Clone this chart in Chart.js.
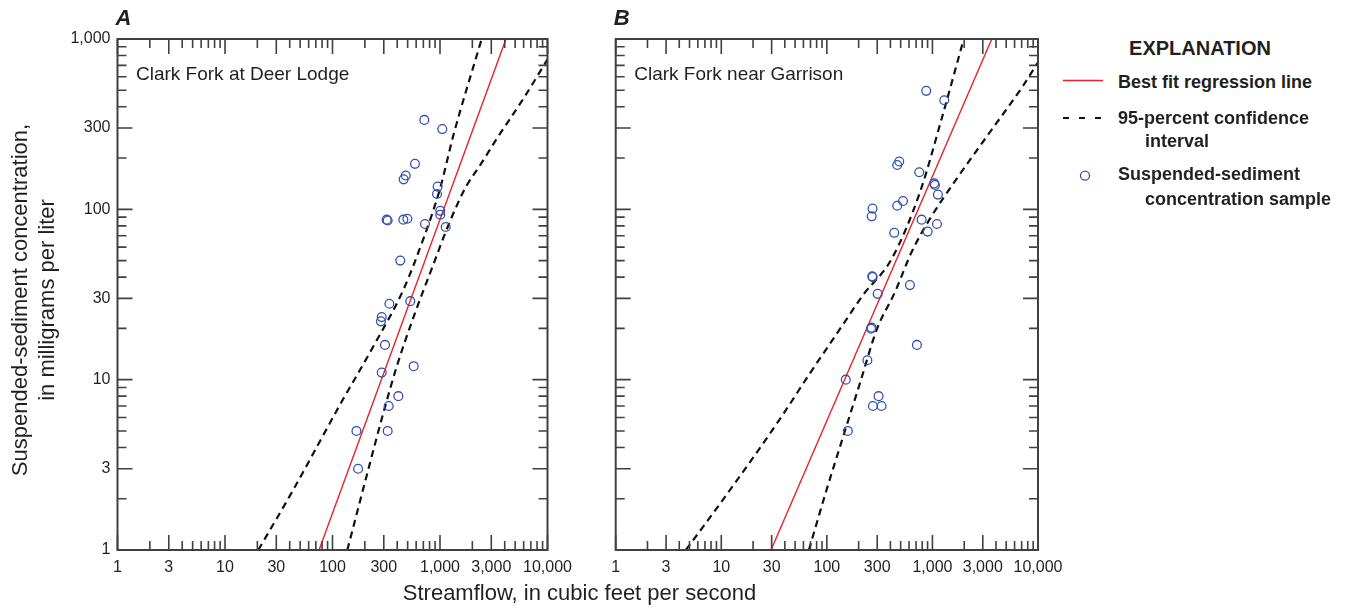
<!DOCTYPE html>
<html>
<head>
<meta charset="utf-8">
<title>Streamflow vs suspended-sediment concentration</title>
<script src="https://cdn.jsdelivr.net/npm/chart.js@4.4.1/dist/chart.umd.min.js"></script>
<style>
  body { margin: 0; background: #fff; width: 1347px; height: 609px; position: relative; overflow: hidden;
         font-family: 'Liberation Sans', Arial, sans-serif; color: #231f20; }
  canvas { position: absolute; top: 0; }
  #chartA { left: 0; }
  #chartB { left: 560px; }
  .txt { position: absolute; white-space: nowrap; }
  .ytitle { position: absolute; width: 440px; height: 22px; line-height: 22px; font-size: 22px;
            text-align: center; transform: rotate(-90deg); }
  .lg { position: absolute; font-weight: bold; font-size: 18px; line-height: 18px; white-space: nowrap; }
</style>
</head>
<body>
<canvas id="chartA" width="580" height="609"></canvas>
<canvas id="chartB" width="540" height="609"></canvas>

<div class="ytitle" style="left:-200px; top:289px;">Suspended-sediment concentration,</div>
<div class="ytitle" style="left:-173px; top:289px;">in milligrams per liter</div>
<div class="txt" style="left:379.5px; top:582px; width:400px; text-align:center; font-size:22px; line-height:22px;">Streamflow, in cubic feet per second</div>

<!-- explanation -->
<div class="lg" style="left:1100px; top:37.5px; width:200px; text-align:center; font-size:20px; line-height:20px;">EXPLANATION</div>
<svg style="position:absolute; left:1055px; top:70px;" width="60" height="120">
  <line x1="8" y1="10.5" x2="48" y2="10.5" stroke="#e9212a" stroke-width="1.5"/>
  <line x1="8" y1="48" x2="48" y2="48" stroke="#111" stroke-width="2" stroke-dasharray="6,10"/>
  <circle cx="30" cy="105.7" r="4.5" fill="none" stroke="#3451b2" stroke-width="1.3"/>
</svg>
<div class="lg" style="left:1118px; top:73.2px;">Best fit regression line</div>
<div class="lg" style="left:1118px; top:108.7px;">95-percent confidence</div>
<div class="lg" style="left:1145px; top:132.2px;">interval</div>
<div class="lg" style="left:1118px; top:165.4px;">Suspended-sediment</div>
<div class="lg" style="left:1145px; top:190px;">concentration sample</div>

<script>
// axis labels
const xLabelValues = [1, 3, 10, 30, 100, 300, 1000, 3000, 10000];
const xTickLabels = ['1', '3', '10', '30', '100', '300', '1,000', '3,000', '10,000'];
const yLabelValues = [1, 3, 10, 30, 100, 300, 1000];
const yTickLabels = ['1', '3', '10', '30', '100', '300', '1,000'];
const minorSteps = [2, 3, 4, 5, 6, 7, 8, 9];

// A - Clark Fork at Deer Lodge (streamflow ft3/s, concentration mg/L)
const flowA = [714, 1050, 585, 480, 459, 952, 938, 1006, 1006, 319, 326, 456, 497, 725, 1130,
               427, 338, 529, 287, 282, 308, 287, 569, 410, 333, 167, 326, 173];
const concA = [335, 296, 185, 158, 150, 136, 123, 98, 93, 87, 86, 87, 88, 82, 78.7,
               50, 27.9, 28.9, 23.3, 22, 16, 11, 12, 8, 7, 5, 5, 3];
const fitFlowA = [75, 4110];
const fitConcA = [1, 1000];
const upperFlowA = [20.4, 43.2, 117.5, 240, 456, 700, 1000, 1330, 2440];
const upperConcA = [1, 2.26, 7.13, 15.7, 33.7, 67.1, 132, 271, 1000];
const lowerFlowA = [137.4, 215, 297, 395, 585, 838, 1194, 1479, 1770, 2355, 3365, 5957, 10000];
const lowerConcA = [1, 2.96, 6.37, 11.9, 24.6, 44.8, 80.4, 110, 138, 181, 259, 446, 759];

// B - Clark Fork near Garrison
const flowB = [874, 1294, 485, 464, 750, 1040, 1056, 1127, 526, 464, 271, 266, 790, 1104, 901,
               435, 269, 272, 612, 303, 262, 265, 713, 242, 151, 309, 273, 330, 158];
const concB = [496, 437, 191, 182, 165, 142, 139, 122, 112, 105, 101, 91, 87, 82, 74,
               72.8, 40.5, 40, 35.9, 31.9, 19.9, 20.2, 16, 13, 10, 8, 7, 7, 5];
const fitFlowB = [29.6, 3650];
const fitConcB = [1, 1000];
const upperFlowB = [4.62, 8.4, 19.4, 37.3, 69.2, 138, 221, 411, 762, 1222, 1980];
const upperConcB = [1, 1.65, 3.39, 6.08, 10.9, 20.5, 31.5, 51.2, 126, 340, 1000];
const lowerFlowB = [67.6, 99.5, 143, 206, 296, 442, 635, 946, 1694, 3508, 7244, 10000];
const lowerConcB = [1, 2.26, 4.65, 9.55, 19.6, 32.7, 56.1, 87.9, 151, 284, 533, 730];

const FONT = "'Liberation Sans', Arial, sans-serif";
const TEXT = '#231f20';
const FRAME = '#404040';
const BLUE = '#3451b2';
const RED = '#e9212a';

function logTicks(max) {
    const out = [];
    for (let d = 1; d <= max; d *= 10) {
        out.push(d);
        if (d < max) minorSteps.forEach(m => out.push(m * d));
    }
    return out;
}
const xTicks = logTicks(10000);
const yTicks = logTicks(1000);

function pairs(xs, ys) {
    return xs.map((x, i) => ({ x: x, y: ys[i] }));
}

function labelFor(v, vals, labs) {
    const i = vals.indexOf(v);
    return i < 0 ? '' : labs[i];
}

// frame plus inward tick marks on all four sides
const frameTicks = {
    id: 'frameTicks',
    afterDatasetsDraw(chart) {
        const { ctx, chartArea: a, scales: { x, y } } = chart;
        ctx.save();
        ctx.strokeStyle = FRAME;
        ctx.lineWidth = 1.6;
        ctx.beginPath();
        xTicks.forEach(v => {
            const px = x.getPixelForValue(v);
            const len = xLabelValues.includes(v) ? 15 : 9;
            ctx.moveTo(px, a.bottom); ctx.lineTo(px, a.bottom - len);
            ctx.moveTo(px, a.top); ctx.lineTo(px, a.top + len);
        });
        yTicks.forEach(v => {
            const py = y.getPixelForValue(v);
            const len = yLabelValues.includes(v) ? 15 : 9;
            ctx.moveTo(a.left, py); ctx.lineTo(a.left + len, py);
            ctx.moveTo(a.right, py); ctx.lineTo(a.right - len, py);
        });
        ctx.stroke();
        ctx.lineWidth = 2;
        ctx.strokeRect(a.left, a.top, a.right - a.left, a.bottom - a.top);
        ctx.restore();
    }
};

// panel letter above the frame and station name inside it
const panelDeco = {
    id: 'panelDeco',
    afterDraw(chart, args, opts) {
        const { ctx, chartArea: a } = chart;
        ctx.save();
        ctx.fillStyle = TEXT;
        ctx.textBaseline = 'alphabetic';
        ctx.font = 'italic bold 22px ' + FONT;
        ctx.fillText(opts.letter, a.left - 2, 25);
        ctx.font = '19px ' + FONT;
        ctx.fillText(opts.name, a.left + 18.5, 80);
        ctx.restore();
    }
};

function makePanel(id, p) {
    const band = (xs, ys, label) => ({
        label: label,
        data: pairs(xs, ys),
        showLine: true,
        cubicInterpolationMode: 'monotone',
        borderColor: '#111',
        borderWidth: 2.2,
        borderDash: [7, 5],
        pointRadius: 0
    });
    return new Chart(document.getElementById(id), {
        type: 'scatter',
        data: {
            datasets: [{
                label: 'Suspended-sediment concentration sample',
                data: pairs(p.flow, p.conc),
                pointRadius: 4.4,
                pointHoverRadius: 4.4,
                borderColor: BLUE,
                backgroundColor: 'rgba(0,0,0,0)',
                borderWidth: 1.3
            }, {
                label: 'Best fit regression line',
                data: pairs(p.fitFlow, p.fitConc),
                showLine: true,
                borderColor: RED,
                borderWidth: 1.4,
                pointRadius: 0
            },
            band(p.upperFlow, p.upperConc, '95-percent confidence interval'),
            band(p.lowerFlow, p.lowerConc, '95-percent confidence interval (lower)')]
        },
        options: {
            responsive: false,
            animation: false,
            events: [],
            layout: { padding: p.padding, autoPadding: false },
            plugins: {
                legend: { display: false },
                tooltip: { enabled: false },
                panelDeco: { letter: p.letter, name: p.name }
            },
            scales: {
                x: {
                    type: 'logarithmic',
                    min: 1,
                    max: 10000,
                    grid: { display: false, drawTicks: false },
                    border: { display: false },
                    afterBuildTicks: s => { s.ticks = xTicks.map(v => ({ value: v })); },
                    afterFit: s => { s.height = 59; },
                    ticks: {
                        autoSkip: false,
                        maxRotation: 0,
                        padding: 8,
                        color: TEXT,
                        font: { family: FONT, size: 16 },
                        callback: v => labelFor(v, xLabelValues, xTickLabels)
                    }
                },
                y: {
                    type: 'logarithmic',
                    min: 1,
                    max: 1000,
                    grid: { display: false, drawTicks: false },
                    border: { display: false },
                    afterBuildTicks: s => { s.ticks = yTicks.map(v => ({ value: v })); },
                    afterFit: s => { s.width = p.yWidth; },
                    ticks: {
                        display: p.showY,
                        autoSkip: false,
                        padding: 7,
                        color: TEXT,
                        font: { family: FONT, size: 16 },
                        callback: v => labelFor(v, yLabelValues, yTickLabels)
                    }
                }
            }
        },
        plugins: [frameTicks, panelDeco]
    });
}

makePanel('chartA', {
    letter: 'A', name: 'Clark Fork at Deer Lodge', showY: true, yWidth: 117.5,
    padding: { top: 39, right: 32.5, left: 0, bottom: 0 },
    flow: flowA, conc: concA, fitFlow: fitFlowA, fitConc: fitConcA,
    upperFlow: upperFlowA, upperConc: upperConcA, lowerFlow: lowerFlowA, lowerConc: lowerConcA
});

makePanel('chartB', {
    letter: 'B', name: 'Clark Fork near Garrison', showY: false, yWidth: 55.7,
    padding: { top: 39, right: 62, left: 0, bottom: 0 },
    flow: flowB, conc: concB, fitFlow: fitFlowB, fitConc: fitConcB,
    upperFlow: upperFlowB, upperConc: upperConcB, lowerFlow: lowerFlowB, lowerConc: lowerConcB
});
</script>
</body>
</html>
